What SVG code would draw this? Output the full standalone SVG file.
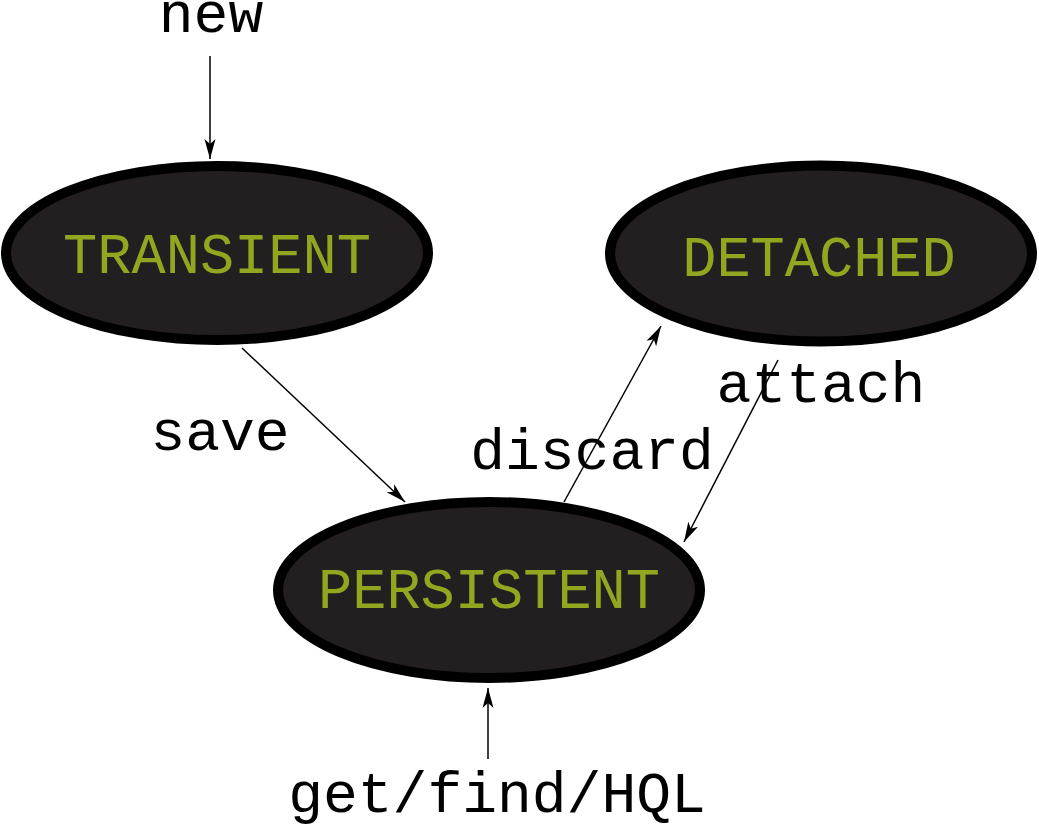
<svg xmlns="http://www.w3.org/2000/svg" width="1039" height="825" viewBox="0 0 1039 825">
<defs>
<style>
.node ellipse{fill:#231f20;stroke:#000;stroke-width:10}
.node text{font-family:"Liberation Mono","DejaVu Sans Mono",monospace;font-size:57px;fill:#92a71f;text-anchor:middle}
.lbl{font-family:"Liberation Mono","DejaVu Sans Mono",monospace;font-size:58px;fill:#000}
.edge{stroke:#000;stroke-width:1.5;fill:none;marker-end:url(#arr)}
</style>
<marker id="arr" markerUnits="userSpaceOnUse" markerWidth="22" markerHeight="14" viewBox="0 0 22 14" refX="21" refY="7" orient="auto">
<path d="M1,1.5 L21,7 L1,12.5 L6,7 Z" fill="#000"/>
</marker>
</defs>
<rect width="1039" height="825" fill="#fff"/>
<g id="transient" class="node">
<ellipse cx="217" cy="253" rx="211" ry="87"/>
<text x="217" y="273">TRANSIENT</text>
</g>
<g id="detached" class="node">
<ellipse cx="821" cy="253.5" rx="211" ry="88"/>
<text x="819" y="276">DETACHED</text>
</g>
<g id="persistent" class="node">
<ellipse cx="489" cy="590" rx="211" ry="88"/>
<text x="489" y="608">PERSISTENT</text>
</g>
<g id="connectors">
<line class="edge" x1="210" y1="56" x2="210" y2="159"/>
<line class="edge" x1="242" y1="348" x2="405" y2="502"/>
<line class="edge" x1="564" y1="502" x2="661" y2="326"/>
<line class="edge" x1="778" y1="360" x2="684" y2="542"/>
<line class="edge" x1="488" y1="759" x2="488" y2="688"/>
</g>
<g id="labels">
<text class="lbl" x="211" y="32" text-anchor="middle">new</text>
<text class="lbl" x="220" y="450" text-anchor="middle">save</text>
<text class="lbl" x="592" y="469" text-anchor="middle">discard</text>
<text class="lbl" x="821" y="402" text-anchor="middle">attach</text>
<text class="lbl" x="497" y="812" text-anchor="middle">get/find/HQL</text>
</g>
</svg>
